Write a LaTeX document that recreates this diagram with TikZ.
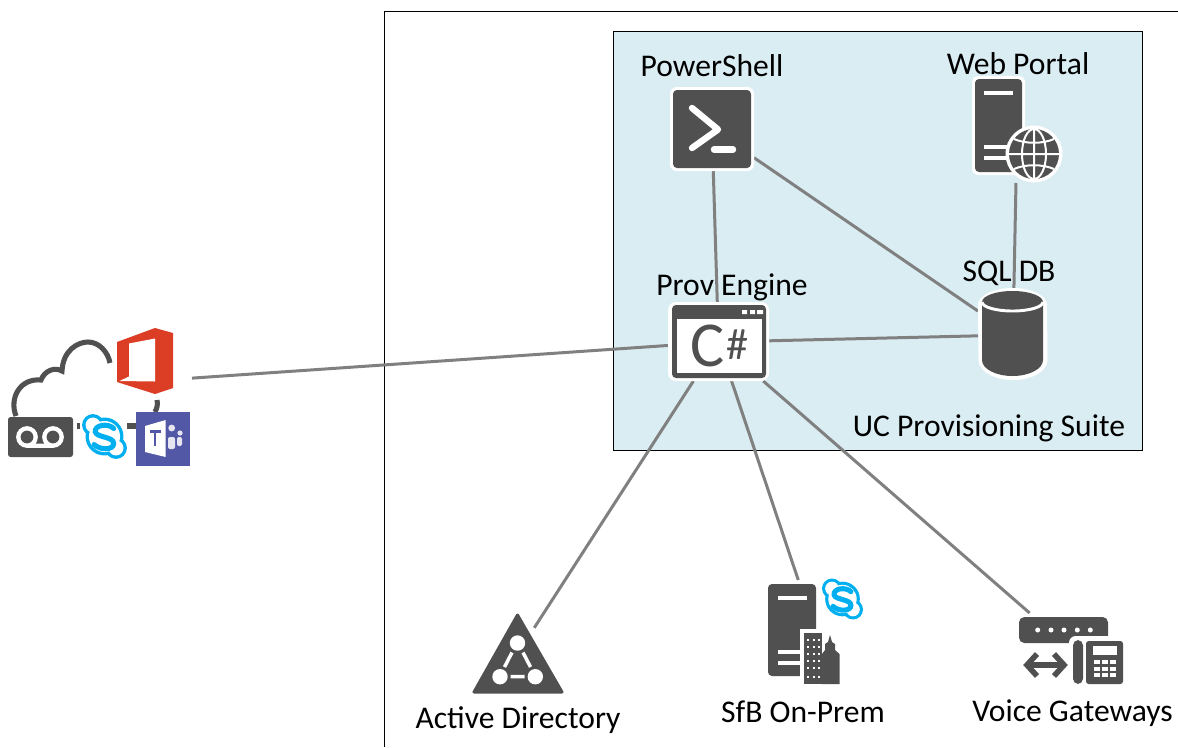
\documentclass[tikz,border=0pt]{standalone}
\usepackage{fontspec}
\setmainfont{Carlito}
\usetikzlibrary{shapes}
\definecolor{icondark}{HTML}{505050}
\definecolor{linkgrey}{HTML}{808080}
\definecolor{suiteblue}{HTML}{DAEDF3}
\definecolor{skypeblue}{HTML}{00AFF0}
\definecolor{officered}{HTML}{DC3E25}
\definecolor{teamspurple}{HTML}{5358A6}
\tikzset{skypelogo/.pic={
	\fill[skypeblue] (0,0) circle (16.5) (-10,-10) circle (9.5) (10,10) circle (9.5);
	\fill[white] (0,0) circle (13.5) (-10,-10) circle (6.5) (10,10) circle (6.5);
	\draw[skypeblue, line width=3.8pt, line cap=round] (8,-7) .. controls (3,-12) and (-9,-10) .. (-8,-4) .. controls (-7,1) and (8,0) .. (8,6) .. controls (8,12) and (-4,12) .. (-9,7);
}}
\begin{document}
\begin{tikzpicture}[x=0.75pt,y=0.75pt,yscale=-1]
	\tikzstyle{hook} = [inner sep=0pt, outer sep=0pt]
	\tikzstyle{label} = [hook, font=\fontsize{23.7pt}{26pt}\selectfont, text=black]
	\tikzstyle{link} = [draw=linkgrey, line width=2.25pt]
	\tikzstyle{dark} = [fill=icondark]
	\tikzstyle{bar} = [draw=white, line width=2.6pt]
	\useasboundingbox (0,0) rectangle (1178,747);

	\node[hook, minimum width=138pt, minimum height=105pt] (Cloud) at (100,384.4) {};
	\node[hook, minimum width=63pt, minimum height=63pt] (PowerShell) at (712,129) {};
	\node[hook, minimum width=67.5pt, minimum height=78.75pt] (WebPortal) at (1017,130.5) {};
	\node[hook, minimum width=74.25pt, minimum height=58.5pt] (ProvEngine) at (718.5,342) {};
	\node[hook, minimum width=52.5pt, minimum height=68.25pt] (SqlDb) at (1013,335) {};
	\node[hook, circle, minimum size=45pt] (ActiveDir) at (518,653) {};
	\node[hook, minimum width=75pt, minimum height=75pt] (SfbOnPrem) at (815,630) {};
	\node[hook, minimum width=79.5pt, minimum height=55.5pt] (VoiceGw) at (1072,650) {};

	\draw[black, line width=0.6pt] (1178,11.5) -- (384.5,11.5) -- (384.5,747);
	\draw[black, line width=0.6pt, fill=suiteblue] (613,31) rectangle (1142,450);

	\draw[link] (Cloud) -- (ProvEngine);
	\draw[link] (PowerShell) -- (ProvEngine);
	\draw[link] (PowerShell) -- (SqlDb);
	\draw[link] (WebPortal) -- (SqlDb);
	\draw[link] (ProvEngine) -- (SqlDb);
	\draw[link] (ProvEngine) -- (ActiveDir);
	\draw[link] (ProvEngine) -- (SfbOnPrem);
	\draw[link] (ProvEngine) -- (VoiceGw);

	\draw[icondark, line width=3.8pt] (16,416) .. controls (9,398) and (20,378) .. (41,380) .. controls (45,370) and (55,367) .. (62,371) .. controls (63,350) and (78,342) .. (88,342) .. controls (99,342) and (108,352) .. (110,363);
	\draw[icondark, line width=3.8pt] (157,400) .. controls (158,405) and (157,408) .. (155,412);
	\draw[icondark, line width=3.8pt] (77,426) -- (80,426) (127,426) -- (137,426);
	\fill[officered] (117,342) -- (155,328) -- (173,333) -- (173,388) -- (155,394) -- (117,382) -- cycle;
	\fill[white] (129,343.5) -- (155,338.5) -- (155,381.5) -- (119.5,381) -- (129,376.5) -- cycle;
	\fill[dark, rounded corners=2pt] (8,417) rectangle (73,457);
	\draw[white, line width=3.2pt] (27,437) circle (8.7) (53,437) circle (8.7) (27,445.7) -- (53,445.7);
	\pic[transform shape, scale=1.15] at (104.5,436.5) {skypelogo};
	\fill[teamspurple] (136,412) rectangle (190,466);
	\fill[white!85!teamspurple] (171.7,428) circle (3.4) (180,433) circle (2.6);
	\fill[white!85!teamspurple, rounded corners=1.5pt] (168,437) rectangle (175,449) (177,437) rectangle (182,446);
	\fill[white] (145,426) -- (165.7,420) -- (165.7,457) -- (145,452) -- cycle;
	\draw[teamspurple, line width=2.2pt] (149.5,431.5) -- (160.5,431.5) (155,431.5) -- (155,446);

	\fill[white, rounded corners=5pt] (670,87) rectangle (754,171);
	\fill[dark, rounded corners=3pt] (673,90) rectangle (751,168);
	\draw[white, line width=4.8pt, line cap=round, line join=round] (692,108) -- (718,129.5) -- (692,148);
	\draw[white, line width=4.8pt, line cap=round] (714,149.5) -- (733,149.5);

	\fill[white, rounded corners=4pt] (972,76) -- (1025,76) -- (1025,175) -- (972,175) -- cycle;
	\fill[dark, rounded corners=3pt] (975,79) -- (1022,79) -- (1022,172) -- (975,172) -- cycle;
	\draw[bar] (984,93) -- (1013,93) (984,147) -- (1012,147) (984,158) -- (1012,158);
	\fill[white] (1034,154) circle (28.5);
	\fill[dark] (1034,154) circle (25);
	\draw[white, line width=1.5pt] (1034,154) ellipse (12 and 25) (1034,129) -- (1034,179) (1009,154) -- (1059,154);
	\draw[white, line width=1.5pt] (1014,139) .. controls (1025,144) and (1043,144) .. (1054,139) (1014,169) .. controls (1025,164) and (1043,164) .. (1054,169);

	\fill[white, rounded corners=6pt] (668,302) rectangle (769,381);
	\fill[dark, rounded corners=3pt] (672,305) rectangle (766,378);
	\fill[white] (677,319) rectangle (762,373);
	\fill[white] (742,310) rectangle (747,314) (750,310) rectangle (755,314) (757,310) rectangle (763,314);
	\node[hook, text=icondark, font=\fontsize{48pt}{48pt}\selectfont] (CSharpC) at (708,346) {C};
	\node[hook, text=icondark, font=\fontsize{33pt}{33pt}\selectfont] (CSharpHash) at (737,345) {\#};

	\fill[white] (978,305) arc (180:360:34.5 and 17) -- (1047.5,360) arc (0:180:34.5 and 20) -- cycle;
	\fill[dark] (982,302) arc (180:360:30.5 and 11) -- (1043,360) arc (0:180:30.5 and 16) -- cycle;
	\draw[white, line width=2.2pt] (982,302) arc (180:0:30.5 and 9);

	\fill[dark, draw=icondark, line width=2.25pt, line join=round] (517.5,615) -- (562,692) -- (474,692) -- cycle;
	\fill[white] (517.5,643) circle (7.7) (500,676.7) circle (7.7) (535.3,676.7) circle (7.7);
	\draw[white, line width=2.6pt] (512,652.5) -- (504.5,667) (523,652.5) -- (530.5,667) (510.5,676.7) -- (524.5,676.7);

	\fill[dark, rounded corners=3pt] (768,676) -- (768,584) -- (816,584) -- (816,676) -- cycle;
	\draw[bar] (778,598) -- (807,598) (778,652) -- (802,652) (778,663) -- (802,663);
	\fill[white] (800,629) rectangle (842,686);
	\fill[dark] (804,633) rectangle (822,684);
	\fill[dark] (822,684) -- (822,654) -- (825,650) -- (825,644) -- (828,642) -- (830,635) -- (832,642) -- (835,644) -- (835,650) -- (839.5,654) -- (839.5,684) -- cycle;
	\foreach \col in {808,814,819} \foreach \row in {640,647,654,661,668,677} \fill[white] (\col-1,\row-1) rectangle (\col+1,\row+1);
	\pic[transform shape, scale=1.05] at (842.5,599) {skypelogo};

	\fill[dark, rounded corners=4pt] (1019,643) -- (1019,617) -- (1108,617) -- (1108,643) -- cycle;
	\foreach \col in {1037.7,1051,1064,1077.3,1090.3} \fill[white] (\col,630) circle (2.5);
	\fill[white, rounded corners=5pt] (1069,636) rectangle (1127,688);
	\fill[dark, rounded corners=4pt] (1073,640) rectangle (1083,684);
	\fill[dark, rounded corners=2pt] (1086,641) rectangle (1123,684);
	\fill[white] (1093,646) rectangle (1117,655);
	\foreach \col in {1094,1102,1110} \foreach \row in {660,666.5,673} \fill[white] (\col,\row) rectangle (\col+5.5,\row+4);
	\draw[icondark, line width=4.2pt] (1030,665) -- (1061,665);
	\draw[icondark, line width=4.2pt] (1037,654) -- (1027,665) -- (1037,676);
	\draw[icondark, line width=4.2pt] (1054,654) -- (1064,665) -- (1054,676);

	\node[label] (PowerShellText) at (712,66) {PowerShell};
	\node[label] (WebPortalText) at (1018,64) {Web Portal};
	\node[label] (ProvEngineText) at (732,287) {Prov Engine};
	\node[label] (SqlDbText) at (1009,273) {SQL DB};
	\node[label] (SuiteText) at (989,428) {UC Provisioning Suite};
	\node[label] (ActiveDirText) at (518,720) {Active Directory};
	\node[label] (SfbOnPremText) at (803,712) {SfB On-Prem};
	\node[label] (VoiceGwText) at (1072.5,713) {Voice Gateways};
\end{tikzpicture}
\end{document}
